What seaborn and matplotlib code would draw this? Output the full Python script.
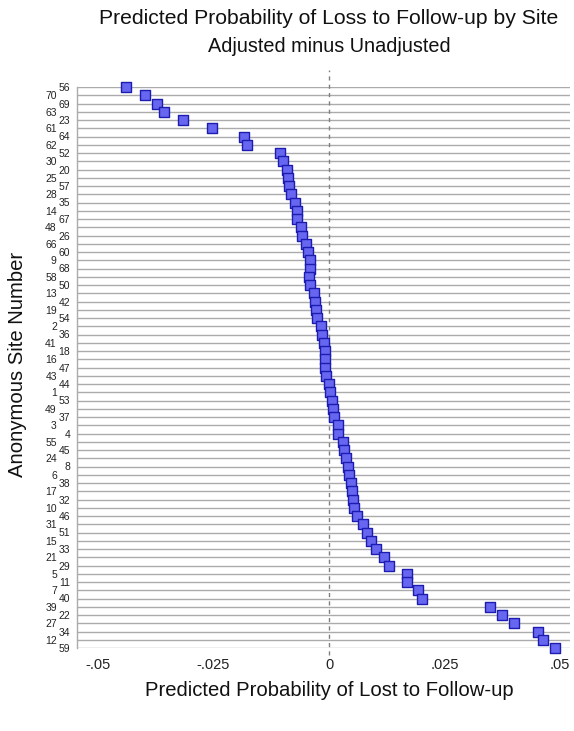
import matplotlib
matplotlib.use("Agg")
import matplotlib.pyplot as plt
import seaborn as sns
import pandas as pd

# Sites in display order (top to bottom)
sites = [56, 70, 69, 63, 23, 61, 64, 62, 52, 30, 20, 25, 57, 28, 35, 14, 67, 48,
         26, 66, 60, 9, 68, 58, 50, 13, 42, 19, 54, 2, 36, 41, 18, 16, 47, 43,
         44, 1, 53, 49, 37, 3, 4, 55, 45, 24, 8, 6, 38, 17, 32, 10, 46, 31, 51,
         15, 33, 21, 29, 5, 11, 7, 40, 39, 22, 27, 34, 12, 59]

# Adjusted minus unadjusted predicted probability
diffs = [-0.0440, -0.0398, -0.0373, -0.0358, -0.0316, -0.0253, -0.0185, -0.0177,
         -0.0106, -0.0099, -0.0092, -0.0089, -0.0087, -0.0083, -0.0074, -0.0070,
         -0.0069, -0.0061, -0.0058, -0.0050, -0.0045, -0.0041, -0.0041, -0.0043,
         -0.0041, -0.0032, -0.0030, -0.0029, -0.0025, -0.0018, -0.0016, -0.0011,
         -0.0009, -0.0009, -0.0009, -0.0007, 0.0001, 0.0002, 0.0006, 0.0009,
         0.0011, 0.0019, 0.0020, 0.0030, 0.0033, 0.0036, 0.0040, 0.0044, 0.0047,
         0.0050, 0.0051, 0.0053, 0.0060, 0.0074, 0.0082, 0.0090, 0.0102, 0.0120,
         0.0130, 0.0168, 0.0168, 0.0193, 0.0201, 0.0348, 0.0374, 0.0400, 0.0452,
         0.0464, 0.0489]

xticks = [-0.05, -0.025, 0, 0.025, 0.05]
xtick_labels = ["-.05", "-.025", "0", ".025", ".05"]

title = "Predicted Probability of Loss to Follow-up by Site"
subtitle = "Adjusted minus Unadjusted"
xlabel = "Predicted Probability of Lost to Follow-up"
ylabel = "Anonymous Site Number"

sns.set_theme(style="white")
plt.rcParams['font.family'] = ['Liberation Sans', 'DejaVu Sans']

W, H = 574, 731
fig = plt.figure(figsize=(W / 100, H / 100), dpi=100)
left, right, top, bottom = 77, 570, 87, 648
ax = fig.add_axes([left / W, 1 - bottom / H, (right - left) / W, (bottom - top) / H])

df = pd.DataFrame({"site": [str(s) for s in sites], "diff": diffs})
sns.scatterplot(data=df, x="diff", y="site", marker="s", s=42,
                color="#6666f0", edgecolor="#1c1cb0", linewidth=1.0,
                ax=ax, zorder=3, clip_on=False)

ax.set_ylim(len(sites) - 1, 0)
ax.set_xlim(-0.05455, 0.05216)
ax.set_yticks(range(len(sites)))
ax.set_yticklabels([str(s) for s in sites])
ax.set_xticks(xticks)
ax.set_xticklabels(xtick_labels)

ax.grid(True, axis='y', color='#ababab', linewidth=1.0)
ax.grid(False, axis='x')
ax.set_axisbelow(True)
for s in ["top", "right", "bottom"]:
    ax.spines[s].set_visible(False)
ax.spines["left"].set_color('#ababab')
ax.spines["left"].set_linewidth(1.0)

ax.axvline(0, ymin=-0.012, ymax=1.03, color='#808080', linewidth=1.0,
           linestyle=(0, (3, 3)), clip_on=False, zorder=2)

ax.tick_params(axis='y', length=0, labelsize=7.5, colors='#222222')
ax.tick_params(axis='x', length=0, labelsize=10.5, pad=7, colors='#222222')
for i, t in enumerate(ax.yaxis.get_major_ticks()):
    t.set_pad(5 if i % 2 == 0 else 14.5)

ax.set_xlabel("")
ax.set_ylabel("")

fig.text(329 / W, 1 - 18 / H, title, ha='center', va='center', fontsize=15.2, color='#111111')
fig.text(329 / W, 1 - 46 / H, subtitle, ha='center', va='center', fontsize=14.3, color='#111111')
fig.text(329 / W, 1 - 690 / H, xlabel, ha='center', va='center', fontsize=14.6, color='#111111')
fig.text(18 / W, 1 - 364 / H, ylabel, ha='center', va='center', rotation=90, fontsize=14.6, color='#111111')

fig.savefig("out.png", dpi=100)
